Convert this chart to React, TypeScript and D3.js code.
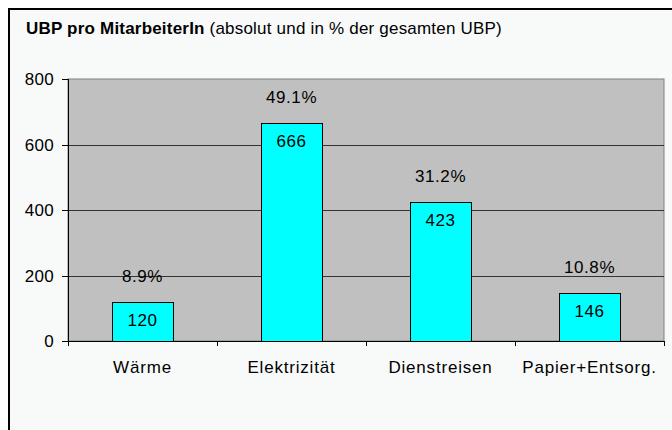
import React from "react";
import * as d3 from "d3";

const categories = ["Wärme", "Elektrizität", "Dienstreisen", "Papier+Entsorg."];
const values = [120, 666, 423, 146];
const percentLabels = ["8.9%", "49.1%", "31.2%", "10.8%"];
const yTicks = [0, 200, 400, 600, 800];

export default function App() {
  const W = 672, H = 430;
  const left = 68, right = 664, top = 79, bottom = 341;
  const x = d3.scaleBand<string>().domain(categories).range([left, right]).paddingInner(0.59).paddingOuter(0.295);
  const y = d3.scaleLinear().domain([0, 800]).range([bottom, top]);
  const step = x.step();
  const font = "'Liberation Sans', Arial, sans-serif";
  const boundaries = d3.range(categories.length + 1).map((i) => left + i * step);

  return (
    <svg width={W} height={H} style={{ position: "absolute", left: 0, top: 0, display: "block" }} fontFamily={font}>
      <rect x={0} y={0} width={W} height={H} fill="#ffffff" />
      <rect x={9} y={9} width={W + 20} height={H + 20} fill="#f8f9f9" stroke="#000" strokeWidth={2} />
      <text x={26} y={34} fontSize={17} fill="#000" letterSpacing={0.2}>
        <tspan fontWeight="bold">UBP pro MitarbeiterIn</tspan>
        <tspan> (absolut und in % der gesamten UBP)</tspan>
      </text>
      <rect x={left} y={top} width={right - left} height={bottom - top} fill="#c0c0c0" stroke="#808080" strokeWidth={1} />
      {yTicks.filter((t) => t > 0 && t < 800).map((t) => (
        <line key={"g" + t} x1={left} x2={right} y1={Math.round(y(t)) + 0.5} y2={Math.round(y(t)) + 0.5} stroke="#333" strokeWidth={1} />
      ))}
      {values.map((v, i) => {
        const bx = x(categories[i])!;
        const bw = x.bandwidth();
        const cx = bx + bw / 2;
        return (
          <g key={categories[i]}>
            <rect x={Math.round(bx) + 0.5} y={Math.round(y(v)) + 0.5} width={Math.round(bw)} height={Math.round(bottom - y(v))} fill="#00ffff" stroke="#000" strokeWidth={1} />
            <text x={cx} y={y(v) + 24} textAnchor="middle" fontSize={17} letterSpacing={0.5} fill="#000">{v}</text>
            <text x={cx} y={y(v) - 20} textAnchor="middle" fontSize={17} letterSpacing={0.6} fill="#000">{percentLabels[i]}</text>
            <text x={cx} y={373} textAnchor="middle" fontSize={17} letterSpacing={0.8} fill="#000">{categories[i]}</text>
          </g>
        );
      })}
      <line x1={left + 0.5} x2={left + 0.5} y1={top} y2={bottom} stroke="#000" strokeWidth={1} />
      <line x1={left} x2={right} y1={bottom + 0.5} y2={bottom + 0.5} stroke="#000" strokeWidth={1} />
      {yTicks.map((t) => (
        <g key={"t" + t}>
          <line x1={62} x2={left} y1={Math.round(y(t)) + 0.5} y2={Math.round(y(t)) + 0.5} stroke="#000" strokeWidth={1} />
          <text x={54} y={y(t) + 6} textAnchor="end" fontSize={17} letterSpacing={0.3} fill="#000">{t}</text>
        </g>
      ))}
      {boundaries.map((bx, i) => (
        <line key={"c" + i} x1={Math.round(bx) + 0.5} x2={Math.round(bx) + 0.5} y1={bottom} y2={bottom + 5} stroke="#000" strokeWidth={1} />
      ))}
    </svg>
  );
}
